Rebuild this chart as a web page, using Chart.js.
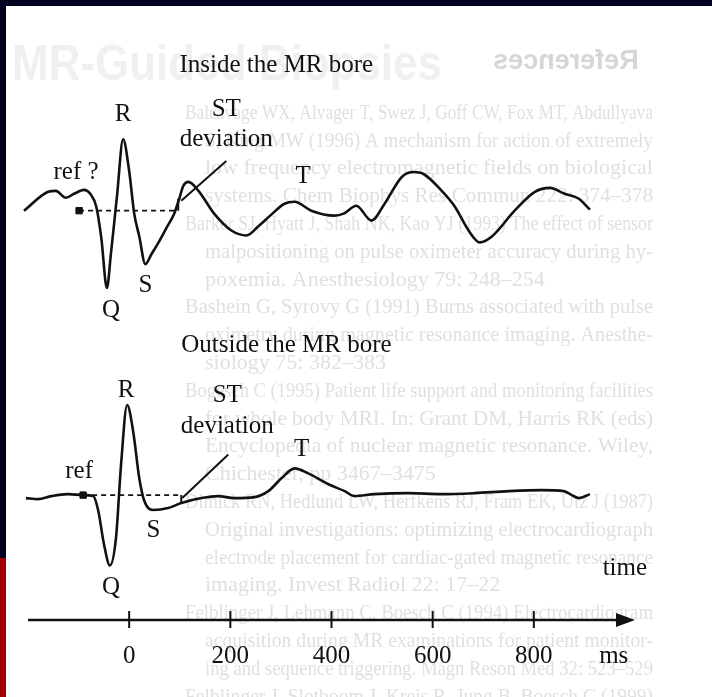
<!DOCTYPE html>
<html>
<head>
<meta charset="utf-8">
<script src="https://cdn.jsdelivr.net/npm/chart.js@4.4.1/dist/chart.umd.min.js"></script>
<style>
  html, body { margin: 0; padding: 0; background: #fff; }
  #wrap { width: 712px; height: 697px; position: relative; }
</style>
</head>
<body>
<div id="wrap"><canvas id="ecgChart"></canvas></div>
<script>
// time axis (ms)
const timeTicks = [0, 200, 400, 600, 800];

// ECG recorded inside the MR bore (time ms, amplitude relative to baseline)
const insideTime = [-208, -160, -145, -125, -109, -89, -77, -65, -55, -44, -36, -24, -12, 0, 10, 20, 32, 44, 57, 73,
  89, 99, 107, 117, 137, 168, 202, 232, 255, 281, 307, 327, 360, 406, 424, 449, 479, 505, 539, 562,
  582, 618, 644, 671, 693, 717, 762, 802, 832, 861, 889, 911];
const insideAmp = [0, 19, 20, 13, 17, 21, 17, 4, -28, -78, -43, 15, 72, 40, -3, -26, -54, -44, -33, -18,
  -3, 12, 25, 29, 20, -3, -20, -25, -16, -4, 7, 9, 0, -5, -3, 5, -10, 7, 34, 39,
  37, 20, 4, -20, -32, -26, 0, 19, 23, 17, 12, 1];

// ECG recorded outside the MR bore
const outsideTime = [-204, -180, -154, -121, -91, -71, -61, -50, -38, -26, -16, -4, 8, 20, 30, 48, 77, 103, 143, 176,
  208, 248, 275, 301, 327, 354, 394, 426, 445, 485, 552, 618, 683, 750, 816, 859, 875, 889, 911];
const outsideAmp = [-3, -4, -1, 1, 0, -1, -16, -49, -71, -43, 31, 91, 64, 17, -6, -15, -13, -8, -3, -1,
  -3, -2, 4, 17, 27, 22, 11, 4, -1, 1, 2, 1, 2, 4, 5, 4, 0, -3, 1];

// vertical placement of the two traces
const insideBase = 413;
const outsideBase = 126;

// reference level, ST marker and pointer (time, amplitude)
const insideRefTime = [-99, 97];
const insideStTick = [0, 12];
const insidePointerTime = [103, 192];
const insidePointerAmp = [10, 50];
const outsideRefTime = [-91, 103];
const outsideStTick = [0, -9];
const outsidePointerTime = [105, 196];
const outsidePointerAmp = [-3, 41];

// annotation labels
const insideLabels = ['Inside the MR bore', 'ref ?', 'R', 'ST', 'deviation', 'T', 'S', 'Q'];
const insideLabelTime = [291, -105, -12, 192, 192, 344, 32, -36];
const insideLabelAmp = [147, 39, 97, 102, 72, 35, -75, -101];
const outsideLabels = ['Outside the MR bore', 'ref', 'R', 'ST', 'deviation', 'T', 'S', 'Q'];
const outsideLabelTime = [311, -99, -6, 194, 194, 341, 48, -36];
const outsideLabelAmp = [151, 24, 106, 101, 69, 46, -36, -93];

// faded page behind the figure
const refLines = [
  'Balcavage WX, Alvager T, Swez J, Goff CW, Fox MT, Abdullyava',
  'S, King MW (1996) A mechanism for action of extremely',
  'low frequency electromagnetic fields on biological',
  'systems. Chem Biophys Res Commun 222: 374–378',
  'Barker SJ, Hyatt J, Shah NK, Kao YJ (1993) The effect of sensor',
  'malpositioning on pulse oximeter accuracy during hy-',
  'poxemia. Anesthesiology 79: 248–254',
  'Bashein G, Syrovy G (1991) Burns associated with pulse',
  'oximetry during magnetic resonance imaging. Anesthe-',
  'siology 75: 382–383',
  'Bogesch C (1995) Patient life support and monitoring facilities',
  'for whole body MRI. In: Grant DM, Harris RK (eds)',
  'Encyclopedia of nuclear magnetic resonance. Wiley,',
  'Chichester, pp 3467–3475',
  'Dimick RN, Hedlund LW, Herfkens RJ, Fram EK, Utz J (1987)',
  'Original investigations: optimizing electrocardiograph',
  'electrode placement for cardiac-gated magnetic resonance',
  'imaging. Invest Radiol 22: 17–22',
  'Felblinger J, Lehmann C, Boesch C (1994) Electrocardiogram',
  'acquisition during MR examinations for patient monitor-',
  'ing and sequence triggering. Magn Reson Med 32: 523–529',
  'Felblinger J, Slotboom J, Kreis R, Jung B, Boesch C (1999)'
];
const refFirstLines = [0, 4, 7, 10, 14, 18, 21];

const serif = '"Liberation Serif", "Times New Roman", serif';
const ink = '#111';

function pts(times, amps, base) {
  return times.map((t, i) => ({ x: t, y: base + amps[i] }));
}

const pagePlugin = {
  id: 'page',
  beforeDraw(chart) {
    const ctx = chart.ctx;
    const w = chart.width, h = chart.height;
    ctx.save();
    ctx.fillStyle = '#fff';
    ctx.fillRect(0, 0, w, h);

    // faint slide title and mirrored heading
    ctx.fillStyle = '#f0f0f0';
    ctx.font = 'bold 50px "Liberation Sans", Arial, sans-serif';
    ctx.textBaseline = 'middle';
    ctx.textAlign = 'left';
    ctx.fillText('MR-Guided Biopsies', 12, 66, 430);
    ctx.save();
    ctx.translate(566, 62);
    ctx.scale(-1, 1);
    ctx.fillStyle = '#d6d6d6';
    ctx.font = 'bold 27px "Liberation Sans", Arial, sans-serif';
    ctx.textAlign = 'center';
    ctx.fillText('References', 0, 0);
    ctx.restore();

    // faint reference list
    ctx.fillStyle = '#e0e0e0';
    ctx.font = '22px ' + serif;
    ctx.textAlign = 'left';
    refLines.forEach((line, i) => {
      const x = refFirstLines.includes(i) ? 185 : 205;
      ctx.fillText(line, x, 113 + i * 27.8, 653 - x);
    });

    // slide frame
    ctx.fillStyle = '#00001f';
    ctx.fillRect(0, 0, w, 6);
    ctx.fillRect(0, 0, 6, 558);
    ctx.fillStyle = '#a50000';
    ctx.fillRect(0, 558, 6, h - 558);
    ctx.restore();
  },
  afterDraw(chart) {
    const ctx = chart.ctx;
    const xs = chart.scales.x, ys = chart.scales.y;
    ctx.save();
    ctx.fillStyle = ink;
    ctx.textAlign = 'center';
    ctx.textBaseline = 'middle';
    ctx.font = '25px ' + serif;

    insideLabels.forEach((txt, i) => {
      ctx.fillText(txt, xs.getPixelForValue(insideLabelTime[i]), ys.getPixelForValue(insideBase + insideLabelAmp[i]));
    });
    outsideLabels.forEach((txt, i) => {
      ctx.fillText(txt, xs.getPixelForValue(outsideLabelTime[i]), ys.getPixelForValue(outsideBase + outsideLabelAmp[i]));
    });

    // time axis with arrow
    const y0 = ys.getPixelForValue(0);
    const left = xs.getPixelForValue(xs.min);
    const tip = xs.getPixelForValue(xs.max);
    ctx.strokeStyle = ink;
    ctx.lineWidth = 2.6;
    ctx.beginPath();
    ctx.moveTo(left, y0);
    ctx.lineTo(tip - 14, y0);
    ctx.stroke();
    ctx.beginPath();
    ctx.moveTo(tip, y0);
    ctx.lineTo(tip - 19, y0 - 7);
    ctx.lineTo(tip - 19, y0 + 7);
    ctx.closePath();
    ctx.fill();

    ctx.lineWidth = 2;
    timeTicks.forEach(t => {
      const px = xs.getPixelForValue(t);
      ctx.beginPath();
      ctx.moveTo(px, y0 - 9);
      ctx.lineTo(px, y0 + 8);
      ctx.stroke();
      ctx.fillText(String(t), px, y0 + 36);
    });
    ctx.fillText('ms', xs.getPixelForValue(958), y0 + 36);
    ctx.fillText('time', xs.getPixelForValue(980), y0 - 52);
    ctx.restore();
  }
};

const traceStyle = {
  borderColor: ink,
  borderWidth: 2.6,
  pointRadius: 0,
  cubicInterpolationMode: 'monotone',
  clip: false
};
const markStyle = {
  borderColor: ink,
  borderWidth: 2,
  pointRadius: 0,
  tension: 0,
  clip: false
};

new Chart(document.getElementById('ecgChart'), {
  type: 'line',
  data: {
    datasets: [
      { label: 'Inside the MR bore', data: pts(insideTime, insideAmp, insideBase), ...traceStyle },
      { label: 'Outside the MR bore', data: pts(outsideTime, outsideAmp, outsideBase), ...traceStyle },
      { label: 'ref inside', data: pts(insideRefTime, [0, 0], insideBase), ...markStyle, borderWidth: 1.6, borderDash: [5, 4] },
      { label: 'ref outside', data: pts(outsideRefTime, [0, 0], outsideBase), ...markStyle, borderWidth: 1.6, borderDash: [5, 4] },
      { label: 'ST inside', data: pts([insideRefTime[1], insideRefTime[1]], insideStTick, insideBase), ...markStyle },
      { label: 'ST outside', data: pts([outsideRefTime[1], outsideRefTime[1]], outsideStTick, outsideBase), ...markStyle },
      { label: 'pointer inside', data: pts(insidePointerTime, insidePointerAmp, insideBase), ...markStyle },
      { label: 'pointer outside', data: pts(outsidePointerTime, outsidePointerAmp, outsideBase), ...markStyle },
      {
        label: 'ref points',
        data: [{ x: insideRefTime[0], y: insideBase }, { x: outsideRefTime[0], y: outsideBase }],
        showLine: false,
        pointStyle: 'rect',
        pointRadius: 4.5,
        backgroundColor: ink,
        borderColor: ink,
        clip: false
      }
    ]
  },
  options: {
    responsive: true,
    maintainAspectRatio: false,
    animation: false,
    devicePixelRatio: 1,
    layout: { padding: { left: 28, right: 77, top: 0, bottom: 77 } },
    scales: {
      x: { type: 'linear', min: -200, max: 1000, display: false },
      y: { type: 'linear', min: 0, max: 620, display: false }
    },
    plugins: {
      legend: { display: false },
      tooltip: { enabled: false }
    }
  },
  plugins: [pagePlugin]
});
</script>
</body>
</html>
